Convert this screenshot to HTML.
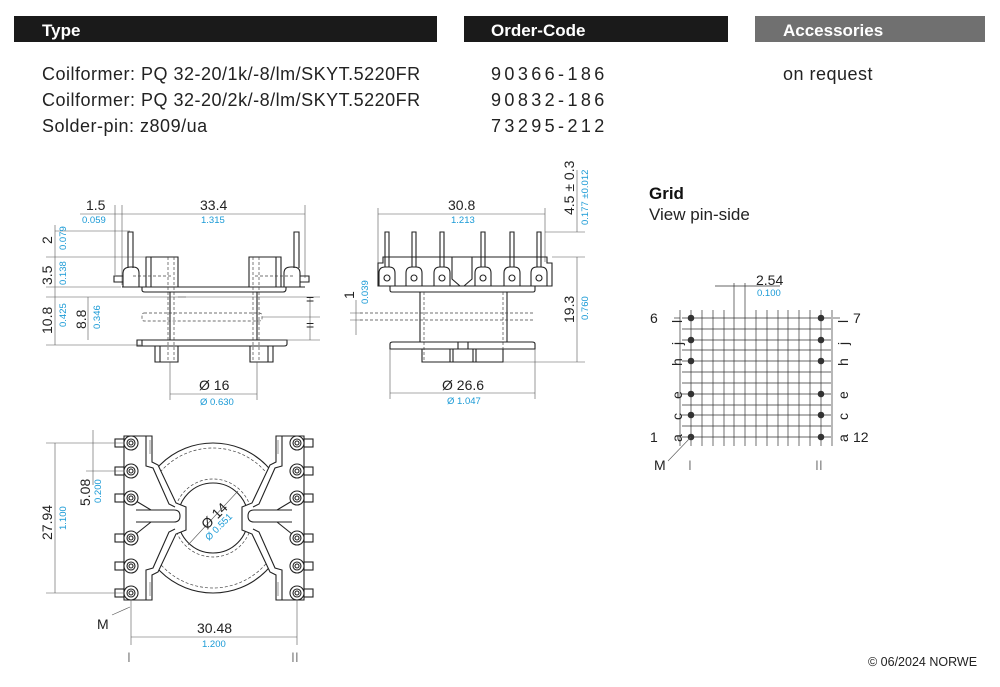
<!DOCTYPE html>
<html><head><meta charset="utf-8"><style>
body{margin:0;background:#fff}
svg{display:block}
text{font-family:"Liberation Sans",sans-serif}
.h{fill:#fff;font-weight:bold;font-size:17px}
.t{fill:#222;font-size:18px;letter-spacing:0.5px}
.o{fill:#222;font-size:18px;letter-spacing:3.4px}
.d{fill:#222;font-size:14px}
.b{fill:#1a9ad6;font-size:9.5px}
.l{stroke:#222;stroke-width:1.1;fill:none}
.th{stroke:#555;stroke-width:.6;fill:none}
.ds{stroke:#444;stroke-width:.7;fill:none;stroke-dasharray:3 2}
</style></head><body>
<svg width="1000" height="687" viewBox="0 0 1000 687" xmlns="http://www.w3.org/2000/svg">
<rect x="14" y="16" width="423" height="26" fill="#1a1a1a"/>
<rect x="464" y="16" width="264" height="26" fill="#1a1a1a"/>
<rect x="755" y="16" width="230" height="26" fill="#707070"/>
<text class="h" x="42" y="36">Type</text>
<text class="h" x="491" y="36">Order-Code</text>
<text class="h" x="783" y="36">Accessories</text>
<text class="t" x="42" y="80">Coilformer:  PQ 32-20/1k/-8/lm/SKYT.5220FR</text>
<text class="t" x="42" y="106">Coilformer:  PQ 32-20/2k/-8/lm/SKYT.5220FR</text>
<text class="t" x="42" y="132">Solder-pin:  z809/ua</text>
<text class="o" x="491" y="80">90366-186</text>
<text class="o" x="491" y="106">90832-186</text>
<text class="o" x="491" y="132">73295-212</text>
<text class="t" x="783" y="80">on request</text>

<!-- LEFT SIDE VIEW -->
<g>
<line class="th" x1="122" y1="205" x2="122" y2="285"/><line class="th" x1="115" y1="205" x2="115" y2="275"/>
<line class="th" x1="305" y1="205" x2="305" y2="278"/>
<line class="th" x1="80" y1="214" x2="305" y2="214"/>
<text class="d" x="86" y="210">1.5</text><text class="b" x="82" y="223">0.059</text>
<text class="d" x="200" y="210">33.4</text><text class="b" x="201" y="223">1.315</text>
<path class="l" d="M128 268V232h5v36M294 268V232h5v36"/>
<path class="l" d="M123 287v-14q0-6 8-6h2q6 0 6 6v14M114 282h9v-6h-9zM284 287v-14q0-6 7-6h2q7 0 7 6v14M300 276h9v6h-9z"/>
<path class="l" d="M146 287V257h32v30M151 257v30M249 287V257h32v30M276 257v30M122 287h183"/>
<path class="ds" d="M168 257v105M174 257v105M253 257v105M259 257v105M133 276h40M255 276h40"/>
<path class="l" d="M142 287v3q0 2 3 2h138q3 0 3-3v-2"/>
<path class="l" d="M170 292v48M257 292v48"/>
<path class="ds" d="M144 313h115q3 0 3 3v3q0 2-3 2H144q-2 0-2-3v-2q0-3 2-3z"/>
<path class="l" d="M137 340h150v4q0 2-3 2H137zM142 340v6"/>
<path class="l" d="M155 346v16h23v-16M160 346v16M250 346v16h23v-16M268 346v16"/>
<line class="th" x1="170" y1="362" x2="170" y2="400"/><line class="th" x1="257" y1="362" x2="257" y2="400"/>
<line class="th" x1="170" y1="394" x2="257" y2="394"/>
<text class="d" x="199" y="390">Ø 16</text><text class="b" x="200" y="405">Ø 0.630</text>
<path class="th" d="M55 225v120M46 257h100M46 287h75M46 297h140M46 345h95M88 297v43M55 231h75"/>
<line class="th" x1="178" y1="297" x2="320" y2="297"/><line class="th" x1="270" y1="340" x2="320" y2="340"/>
<line class="th" x1="262" y1="317" x2="320" y2="317"/><line class="th" x1="310" y1="297" x2="310" y2="340"/>
<text class="d" transform="translate(52,244) rotate(-90)">2</text><text class="b" transform="translate(66,250) rotate(-90)">0.079</text>
<text class="d" transform="translate(52,285) rotate(-90)">3.5</text><text class="b" transform="translate(66,285) rotate(-90)">0.138</text>
<text class="d" transform="translate(52,334) rotate(-90)">10.8</text><text class="b" transform="translate(66,327) rotate(-90)">0.425</text>
<text class="d" transform="translate(86,329) rotate(-90)">8.8</text><text class="b" transform="translate(100,329) rotate(-90)">0.346</text>
<text class="d" x="306" y="304" font-size="9">=</text><text class="d" x="306" y="330" font-size="9">=</text>
</g>

<!-- MIDDLE VIEW -->
<g>
<line class="th" x1="378" y1="208" x2="378" y2="270"/><line class="th" x1="545" y1="208" x2="545" y2="262"/>
<line class="th" x1="378" y1="214" x2="545" y2="214"/>
<text class="d" x="448" y="210">30.8</text><text class="b" x="451" y="223">1.213</text>
<path class="l" d="M385 267V232h4v35M412 267V232h4v35M440 267V232h4v35M481 267V232h4v35M510 267V232h4v35M537 267V232h4v35"/>
<path class="l" d="M378 286V263h5v-6h164v6h5v23z"/>
<path class="l" d="M379 286v-13q0-6 6-6h4q6 0 6 6v13zM406 286v-13q0-6 6-6h4q6 0 6 6v13zM434 286v-13q0-6 6-6h4q6 0 6 6v13zM475 286v-13q0-6 6-6h4q6 0 6 6v13zM504 286v-13q0-6 6-6h4q6 0 6 6v13zM531 286v-13q0-6 6-6h4q6 0 6 6v13z"/>
<g class="l"><circle cx="387" cy="278" r="3"/><circle cx="414" cy="278" r="3"/><circle cx="442" cy="278" r="3"/><circle cx="483" cy="278" r="3"/><circle cx="512" cy="278" r="3"/><circle cx="539" cy="278" r="3"/></g>
<path class="l" d="M452 257v22l8 7M472 257v22l-8 7"/>
<path class="l" d="M390 286v4q0 2 2 2h141q2 0 2-2v-4"/>
<path class="l" d="M420 292v50M507 292v50"/>
<path class="ds" d="M424 292v70M503 292v70M360 313h175M360 320h175"/>
<path class="l" d="M390 349v-5q0-2 3-2h139q3 0 3 2v5zM458 342v7M468 342v7"/>
<path class="l" d="M422 349v13h81v-13M450 349v13M453 349v13M473 349v13M476 349v13"/>
<path class="th" d="M390 349v50M535 349v50M390 393h145"/>
<text class="d" x="442" y="390">Ø 26.6</text><text class="b" x="447" y="404">Ø 1.047</text>
<path class="th" d="M545 232h40M552 257h33M503 362h82M577 257v105M577 170v62"/>
<text class="d" transform="translate(574,323) rotate(-90)">19.3</text><text class="b" transform="translate(588,320) rotate(-90)">0.760</text>
<text class="d" transform="translate(574,215) rotate(-90)">4.5 ± 0.3</text><text class="b" transform="translate(588,225) rotate(-90)">0.177 ±0.012</text>
<path class="th" d="M356 300v35M350 313h12M350 320h12"/>
<text class="d" transform="translate(354,299) rotate(-90)">1</text><text class="b" transform="translate(368,304) rotate(-90)">0.039</text>
</g>

<!-- BOTTOM VIEW -->
<g>
<circle class="l" cx="213" cy="518" r="75"/>
<circle class="ds" cx="213" cy="518" r="70"/>
<circle class="ds" cx="213" cy="518" r="39"/>
<circle fill="#fff" class="l" cx="213" cy="518" r="35"/>
<g id="fr">
<path fill="#fff" stroke="#222" stroke-width="1.1" d="M124 436h28v26l6 3l18 38l10 4v23l-10 4l-18 38l-6 3v25h-28z"/>
<path class="l" d="M146 436v30l7 2l16 36l6 3M146 600v-30l7-2l16-36l6-3"/>
<path class="l" d="M136 510h38q6 0 6 6q0 6-6 6h-38"/>
<path class="l" d="M131 498l20 12M131 538l20-16"/>
<path class="th" d="M150 440v14M150 582v14"/>
<g class="l">
<rect x="115" y="439" width="9" height="8"/><rect x="115" y="467" width="9" height="8"/><rect x="115" y="494" width="9" height="8"/><rect x="115" y="534" width="9" height="8"/><rect x="115" y="562" width="9" height="8"/><rect x="115" y="589" width="9" height="8"/>
<circle cx="131" cy="443" r="7" fill="#fff"/><circle cx="131" cy="443" r="4"/><circle cx="131" cy="443" r="2"/>
<circle cx="131" cy="471" r="7" fill="#fff"/><circle cx="131" cy="471" r="4"/><circle cx="131" cy="471" r="2"/>
<circle cx="131" cy="498" r="7" fill="#fff"/><circle cx="131" cy="498" r="4"/><circle cx="131" cy="498" r="2"/>
<circle cx="131" cy="538" r="7" fill="#fff"/><circle cx="131" cy="538" r="4"/><circle cx="131" cy="538" r="2"/>
<circle cx="131" cy="566" r="7" fill="#fff"/><circle cx="131" cy="566" r="4"/><circle cx="131" cy="566" r="2"/>
<circle cx="131" cy="593" r="7" fill="#fff"/><circle cx="131" cy="593" r="4"/><circle cx="131" cy="593" r="2"/>
</g>
</g>
<use href="#fr" transform="translate(428,0) scale(-1,1)"/>
<line class="th" x1="188" y1="545" x2="238" y2="491"/>
<text class="d" transform="translate(207,530) rotate(-45)">Ø 14</text>
<text class="b" transform="translate(209,541) rotate(-45)">Ø 0.551</text>
<path class="th" d="M46 443h78M46 593h78M55 443v150M86 471h38M93 430v55"/>
<text class="d" transform="translate(52,540) rotate(-90)">27.94</text><text class="b" transform="translate(66,530) rotate(-90)">1.100</text>
<text class="d" transform="translate(90,506) rotate(-90)">5.08</text><text class="b" transform="translate(101,503) rotate(-90)">0.200</text>
<path class="th" d="M131 600v45M297 600v45M131 637h166M112 615l18-8"/>
<text class="d" x="97" y="629">M</text>
<text class="d" x="197" y="633">30.48</text><text class="b" x="202" y="647">1.200</text>
<text fill="#888" font-family="Liberation Serif,serif" font-size="14" x="127" y="662">I</text>
<text fill="#888" font-family="Liberation Serif,serif" font-size="14" x="291" y="662">II</text>
</g>

<!-- GRID -->
<text x="649" y="199" font-size="17" font-weight="bold" fill="#111">Grid</text>
<text x="649" y="220" font-size="17" fill="#222">View pin-side</text>
<g stroke="#333" stroke-width=".7">
<line x1="680" y1="310" x2="680" y2="446"/><line x1="691" y1="310" x2="691" y2="446"/><line x1="702" y1="310" x2="702" y2="446"/><line x1="713" y1="310" x2="713" y2="446"/><line x1="724" y1="310" x2="724" y2="446"/><line x1="734" y1="283" x2="734" y2="446"/><line x1="745" y1="283" x2="745" y2="446"/><line x1="756" y1="310" x2="756" y2="446"/><line x1="767" y1="310" x2="767" y2="446"/><line x1="778" y1="310" x2="778" y2="446"/><line x1="788" y1="310" x2="788" y2="446"/><line x1="799" y1="310" x2="799" y2="446"/><line x1="810" y1="310" x2="810" y2="446"/><line x1="821" y1="310" x2="821" y2="446"/><line x1="832" y1="310" x2="832" y2="446"/>
<line x1="682" y1="318" x2="831" y2="318"/><line x1="682" y1="329" x2="831" y2="329"/><line x1="682" y1="340" x2="831" y2="340"/><line x1="682" y1="350" x2="831" y2="350"/><line x1="682" y1="361" x2="831" y2="361"/><line x1="682" y1="372" x2="831" y2="372"/><line x1="682" y1="383" x2="831" y2="383"/><line x1="682" y1="394" x2="831" y2="394"/><line x1="682" y1="405" x2="831" y2="405"/><line x1="682" y1="415" x2="831" y2="415"/><line x1="682" y1="426" x2="831" y2="426"/><line x1="682" y1="437" x2="831" y2="437"/>
<line x1="715" y1="286" x2="780" y2="286"/><line x1="674" y1="318" x2="680" y2="318"/><line x1="833" y1="318" x2="840" y2="318"/>
</g>
<text class="d" x="756" y="285">2.54</text><text class="b" x="757" y="296">0.100</text>
<g fill="#333"><circle cx="691" cy="318" r="3.3"/><circle cx="691" cy="340" r="3.3"/><circle cx="691" cy="361" r="3.3"/><circle cx="691" cy="394" r="3.3"/><circle cx="691" cy="415" r="3.3"/><circle cx="691" cy="437" r="3.3"/>
<circle cx="821" cy="318" r="3.3"/><circle cx="821" cy="340" r="3.3"/><circle cx="821" cy="361" r="3.3"/><circle cx="821" cy="394" r="3.3"/><circle cx="821" cy="415" r="3.3"/><circle cx="821" cy="437" r="3.3"/></g>
<text class="d" x="650" y="323">6</text><text class="d" x="650" y="442">1</text>
<text class="d" x="853" y="323">7</text><text class="d" x="853" y="442">12</text>
<g class="d"><text transform="translate(682,323) rotate(-90)">l</text><text transform="translate(682,345) rotate(-90)">j</text><text transform="translate(682,366) rotate(-90)">h</text><text transform="translate(682,399) rotate(-90)">e</text><text transform="translate(682,420) rotate(-90)">c</text><text transform="translate(682,442) rotate(-90)">a</text>
<text transform="translate(848,323) rotate(-90)">l</text><text transform="translate(848,345) rotate(-90)">j</text><text transform="translate(848,366) rotate(-90)">h</text><text transform="translate(848,399) rotate(-90)">e</text><text transform="translate(848,420) rotate(-90)">c</text><text transform="translate(848,442) rotate(-90)">a</text></g>
<line class="th" x1="668" y1="461" x2="691" y2="437"/>
<text class="d" x="654" y="470">M</text>
<text fill="#888" font-family="Liberation Serif,serif" font-size="14" x="688" y="470">I</text>
<text fill="#888" font-family="Liberation Serif,serif" font-size="14" x="815" y="470">II</text>
<text x="868" y="666" font-size="12.5" fill="#222">© 06/2024 NORWE</text>
</svg>
</body></html>
